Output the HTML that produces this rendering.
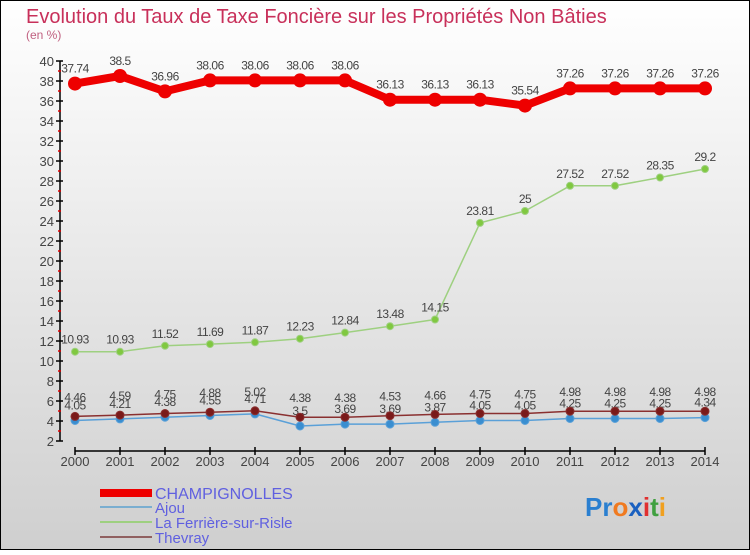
<!DOCTYPE html>
<html><head><meta charset="utf-8"><style>
html,body{margin:0;padding:0}
body{width:750px;height:550px;overflow:hidden;font-family:"Liberation Sans",sans-serif}
</style></head><body>
<svg id="chart" width="750" height="550" xmlns="http://www.w3.org/2000/svg">
<defs>
<linearGradient id="bg" x1="0" y1="0" x2="0" y2="1">
<stop offset="0" stop-color="#ffffff"/><stop offset="1" stop-color="#cfcfcf"/>
</linearGradient>
</defs>
<rect x="0.5" y="0.5" width="749" height="549" fill="url(#bg)" stroke="#000" stroke-width="1"/>
<text x="26" y="23" font-size="20" fill="#c8305a">Evolution du Taux de Taxe Foncière sur les Propriétés Non Bâties</text>
<text x="26" y="39" font-size="12" fill="#c06080">(en %)</text>
<g id="axes"></g>
<g id="series"></g>
<g id="legend">
<line x1="100" y1="493" x2="152" y2="493" stroke="#ee0000" stroke-width="8"/>
<text x="155" y="499" font-size="16" fill="#6060e0">CHAMPIGNOLLES</text>
<line x1="100" y1="507" x2="152" y2="507" stroke="#7aaed0" stroke-width="2"/>
<text x="155" y="513" font-size="15" fill="#6060e0">Ajou</text>
<line x1="100" y1="522" x2="152" y2="522" stroke="#9ed080" stroke-width="2"/>
<text x="155" y="528" font-size="15" fill="#6060e0">La Ferrière-sur-Risle</text>
<line x1="100" y1="537" x2="152" y2="537" stroke="#906060" stroke-width="2"/>
<text x="155" y="543" font-size="15" fill="#6060e0">Thevray</text>
</g>
<text x="585" y="516" font-size="26" font-weight="bold"><tspan fill="#2a7fd0">Pr</tspan><tspan fill="#f07a20">o</tspan><tspan fill="#1a60c0">x</tspan><tspan fill="#e03030">i</tspan><tspan fill="#40a040">t</tspan><tspan fill="#f0a020">i</tspan></text>
</svg>
<script>
const years = [2000,2001,2002,2003,2004,2005,2006,2007,2008,2009,2010,2011,2012,2013,2014];
const champignolles = [37.74,38.5,36.96,38.06,38.06,38.06,38.06,36.13,36.13,36.13,35.54,37.26,37.26,37.26,37.26];
const ajou = [4.05,4.21,4.38,4.55,4.71,3.5,3.69,3.69,3.87,4.05,4.05,4.25,4.25,4.25,4.34];
const ferriere = [10.93,10.93,11.52,11.69,11.87,12.23,12.84,13.48,14.15,23.81,25,27.52,27.52,28.35,29.2];
const thevray = [4.46,4.59,4.75,4.88,5.02,4.38,4.38,4.53,4.66,4.75,4.75,4.98,4.98,4.98,4.98];
const yTicks = [2,4,6,8,10,12,14,16,18,20,22,24,26,28,30,32,34,36,38,40];

const NS = "http://www.w3.org/2000/svg";
const xS = i => 75 + i * 45;
const yS = v => 441 - (v - 2) * 10;
function mk(tag, attrs, parent) {
  const e = document.createElementNS(NS, tag);
  for (const k in attrs) e.setAttribute(k, attrs[k]);
  parent.appendChild(e);
  return e;
}
const axes = document.getElementById('axes');
const yAxis = mk('line', {x1:60, y1:yS(40), x2:60, y2:yS(2), stroke:'#000', 'stroke-width':1.5}, axes);


yTicks.forEach(v => {
  const t = mk('line', {x1:56, y1:yS(v), x2:63, y2:yS(v), stroke:'#000', 'stroke-width':1.5}, axes);
  
  
  if (v < 40) {
    const m = mk('line', {x1:58, y1:yS(v+1), x2:61, y2:yS(v+1), stroke:'#e00000', 'stroke-width':1.5}, axes);
    
    
  }
  const l = mk('text', {x:54, y:yS(v)+5, 'font-size':13, fill:'#444', 'text-anchor':'end'}, axes);
  l.textContent = v;
  
  
});
const xAxis = mk('line', {x1:xS(0), y1:451, x2:xS(years.length-1), y2:451, stroke:'#000', 'stroke-width':1.5}, axes);


years.forEach((y, i) => {
  const t = mk('line', {x1:xS(i), y1:447, x2:xS(i), y2:455, stroke:'#000', 'stroke-width':1.5}, axes);
  
  
  const l = mk('text', {x:xS(i), y:466, 'font-size':13, fill:'#444', 'text-anchor':'middle'}, axes);
  l.textContent = y;
  
  
});

const sg = document.getElementById('series');
function drawSeries(vals, name, color, lw, r, dotColor, labelDy) {
  const g = mk('g', {}, sg);
  
  
  const pts = vals.map((v, i) => xS(i) + ',' + yS(v)).join(' ');
  const pl = mk('polyline', {points:pts, fill:'none', stroke:color, 'stroke-width':lw, 'stroke-linejoin':'round'}, g);
  
  
  vals.forEach((v, i) => {
    const c = mk('circle', {cx:xS(i), cy:yS(v), r:r, fill:dotColor, stroke:color === dotColor ? 'none' : color, 'stroke-width':1}, g);
    
    
    const t = mk('text', {x:xS(i), y:yS(v)+labelDy, 'font-size':12, fill:'#444', 'text-anchor':'middle', 'letter-spacing':'-0.5'}, g);
    t.textContent = v;
    
    
  });
}
drawSeries(ferriere, 'ferriere', '#9ed080', 1.5, 3.5, '#80c840', -8);
drawSeries(ajou, 'ajou', '#5aa0d8', 1.5, 4, '#3a8ed0', -11);
drawSeries(thevray, 'thevray', '#8a3030', 1.5, 4, '#7a1a1a', -15);
drawSeries(champignolles, 'champignolles', '#ee0000', 8, 7, '#ee0000', -11);
</script>
</body></html>
